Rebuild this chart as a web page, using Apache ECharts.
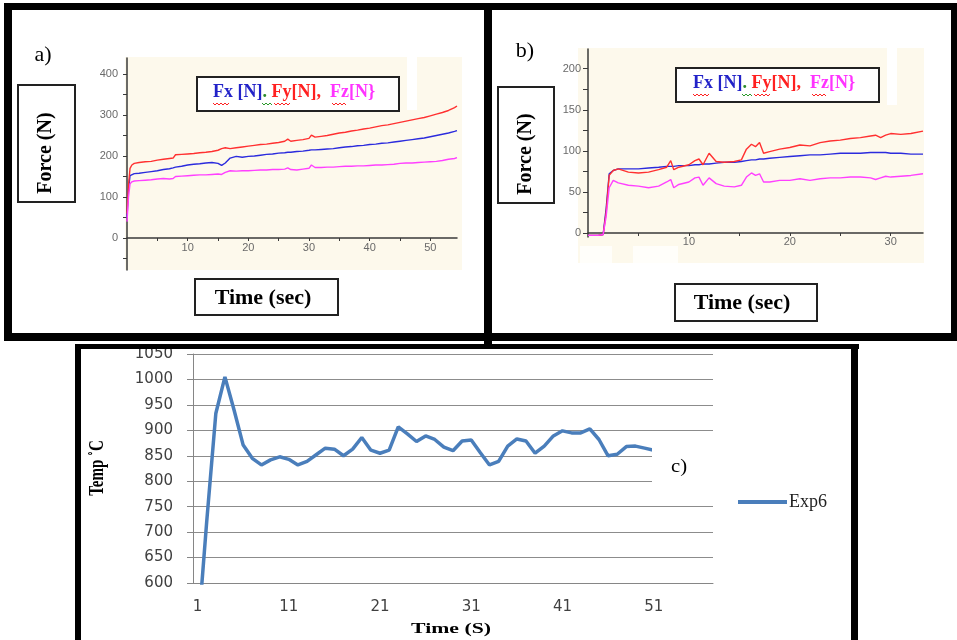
<!DOCTYPE html>
<html>
<head>
<meta charset="utf-8">
<style>
html,body{margin:0;padding:0;background:#fff;}
#chart{width:957px;height:640px;}
</style>
<script src="https://cdn.jsdelivr.net/npm/echarts@6/dist/echarts.min.js"></script>
</head>
<body>
<div id="chart"></div>
<script>
// ---------- Panel a) : force vs time ----------
const timesA = [0,0.25,0.5,0.8,1.2,2,3,4,5,6,7,7.6,8,9,10,11,12,13,14,15,15.6,16.2,17,18,19,20,21,22,23,24,25,26,26.5,27,28,29,30,30.4,31,32,33,34,35,36,37,38,39,40,41,42,43,44,45,46,47,48,49,50,51,52,53,54,54.4];
const fxA = [50,120,152,156,157,158,160,162,164,167,169,171,173,175,178,180,181,183,184,182,177,183,195,199,197,199,200,202,204,205,207,208,209,209,211,212,214,215,215,216,217,218,220,222,223,225,226,228,229,231,232,234,236,238,240,242,244,247,250,253,256,260,262];
const fyA = [60,130,170,178,182,184,186,187,190,192,194,195,203,204,205,206,208,209,211,214,218,220,218,220,222,224,226,228,229,231,233,236,241,236,238,240,243,251,246,248,250,253,256,258,261,263,266,268,271,274,276,279,282,285,288,291,294,298,302,306,311,318,322];
const fzA = [40,100,132,137,139,140,141,142,144,145,144,145,150,151,152,153,154,154,155,156,155,160,164,163,164,164,165,166,166,167,167,168,171,167,166,168,170,178,172,172,173,173,174,175,175,176,176,177,178,178,179,180,182,183,183,184,185,186,187,189,192,194,196];
const xTicksA = [5,10,15,20,25,30,35,40,45,50];
const xLabelsA = [10,20,30,40,50];
const yTicksA = [-50,0,50,100,150,200,250,300,350,400];
const yLabelsA = [0,100,200,300,400];

// ---------- Panel b) : force vs time ----------
const timesB = [0,1,1.5,1.8,2.1,2.5,3,4,5,6,7,7.8,8.2,8.5,9,10,10.6,11,11.4,12,12.7,13.5,14.5,15.2,15.7,16.2,16.6,17,17.4,18,19,20,21,22,23,24,25,26,27,28,28.5,29,29.5,30,31,32,33.2];
const fxB = [-3,-3,-2,30,72,76,78,78,78,79,80,81,81,81,82,82,83,83,84,84,85,86,86,87,88,89,89,90,90,91,92,93,94,95,95,96,97,97,97,98,98,98,98,97,97,96,96];
const fyB = [-3,-3,-2,25,70,76,78,74,73,74,77,80,88,77,80,83,88,90,83,97,87,86,87,89,102,108,105,110,97,99,102,104,107,106,110,112,113,115,116,118,119,116,119,121,120,121,124];
const fzB = [-3,-3,-2,20,55,64,61,58,57,55,57,62,65,55,59,62,67,68,58,67,60,57,56,58,68,73,70,72,62,62,64,64,66,64,66,67,67,68,68,67,65,67,69,68,69,70,72];
const xTicksB = [5,10,15,20,25,30];
const xLabelsB = [10,20,30];
const yTicksB = [0,25,50,75,100,125,150,175,200];
const yLabelsB = [0,50,100,150,200];

// ---------- Panel c) : temperature ----------
const catsC = ['1','2','3','4','5','6','7','8','9','10','11','12','13','14','15','16','17','18','19','20','21','22','23','24','25','26','27','28','29','30','31','32','33','34','35','36','37','38','39','40','41','42','43','44','45','46','47','48','49','50','51','52','53','54','55','56','57'];
const tempC = [490,720,933,1005,940,871,845,832,842,848,843,832,839,852,865,863,850,863,886,861,855,861,907,893,878,889,882,867,860,879,881,856,832,839,869,883,879,855,869,889,899,895,895,903,882,850,853,868,869,865,861];

const C_FX = '#2b2bdd', C_FY = '#ff3030', C_FZ = '#ff40ff';
const tickFont = {fontFamily:'"Liberation Sans", Arial, sans-serif', fontSize:11, color:'#6a6a6a'};

function pairs(t, v){ return t.map((x,i)=>[x, v[i]]); }

function forceSeries(xi, t, fx, fy, fz){
  const base = {type:'line', xAxisIndex:xi, yAxisIndex:xi, showSymbol:false, symbol:'none', animation:false, z:3};
  return [
    Object.assign({}, base, {name:'Fx'+xi, data:pairs(t,fx), lineStyle:{color:C_FX, width:1.4}, itemStyle:{color:C_FX}}),
    Object.assign({}, base, {name:'Fy'+xi, data:pairs(t,fy), lineStyle:{color:C_FY, width:1.4}, itemStyle:{color:C_FY}}),
    Object.assign({}, base, {name:'Fz'+xi, data:pairs(t,fz), lineStyle:{color:C_FZ, width:1.4}, itemStyle:{color:C_FZ}})
  ];
}

function squiggle(x0, x1, y, color){
  const pts = [];
  let up = true;
  for (let x = x0; x <= x1; x += 2) { pts.push([x, up ? y : y + 2]); up = !up; }
  return {type:'polyline', shape:{points:pts}, style:{stroke:color, lineWidth:1, fill:null}, z:102, silent:true};
}

function rect(x,y,w,h,fill,z,stroke,lw){
  return {type:'rect', shape:{x:x,y:y,width:w,height:h}, style:{fill:fill, stroke:stroke||null, lineWidth:lw||0}, z:z, silent:true};
}
function txt(x,y,text,font,opts){
  const o = opts || {};
  return Object.assign({type:'text', x:x, y:y, z:103, silent:true,
    style:{text:text, font:font, fill:o.fill||'#000', align:o.align||'center', verticalAlign:'middle', textAlign:o.align||'center', textVerticalAlign:'middle'}},
    o.extra||{});
}

const legendRich = function(){
  const f = {fontFamily:'"Liberation Serif", "Times New Roman", serif', fontSize:18, fontWeight:'bold'};
  return {
    bl: Object.assign({fill:'#2323c8'}, f),
    gr: Object.assign({fill:'#2a8a2a'}, f),
    rd: Object.assign({fill:'#ff2020'}, f),
    mg: Object.assign({fill:'#ff33ff'}, f)
  };
};
function legendText(x, y){
  return {type:'text', x:x, y:y, z:103, silent:true,
    style:{text:'{bl|Fx [N]}{gr|.}{rd| Fy[N],}{mg|  Fz[N}}', rich:legendRich(),
      font:'bold 18px "Liberation Serif", serif', fill:'#ff33ff', align:'left', verticalAlign:'middle', textAlign:'left', textVerticalAlign:'middle'}};
}

const serifBold = (s)=> 'bold '+s+'px "Liberation Serif", "Times New Roman", serif';
const serif = (s)=> s+'px "Liberation Serif", "Times New Roman", serif';

const graphics = [
  // cream plot backgrounds
  rect(125,57,337,213,'#fdf9ec',-10),
  rect(407,57,10,53,'#ffffff',-9),
  rect(578,48,346,215,'#fdf9ec',-10),
  rect(887,48,10,57,'#ffffff',-9),
  rect(580,246,32,17,'#fffefa',-9),
  rect(633,246,45,17,'#fffefa',-9),
  // white block behind "c)" label
  rect(652,444,62,52,'#ffffff',5),
  // frames
  rect(4,3,953,7,'#000',100),
  rect(4,3,8,338,'#000',100),
  rect(484,3,8,341,'#000',100),
  rect(951,3,6,338,'#000',100),
  rect(4,333,953,8,'#000',100),
  rect(75,344,784,5,'#000',100),
  rect(75,344,6,296,'#000',100),
  rect(851,344,7,296,'#000',100),
  // boxes panel a
  rect(18,85,57,117,'#fff',100,'#222',2),
  rect(195,279,143,36,'#fff',100,'#222',2),
  rect(197,77,202,34,'#fff',100,'#222',2),
  // boxes panel b
  rect(498,87,56,116,'#fff',100,'#222',2),
  rect(675,284,142,37,'#fff',100,'#222',2),
  rect(676,68,203,34,'#fff',100,'#222',2),
  // texts
  txt(43,55,'a)',serif(22)),
  txt(525,51,'b)',serif(22)),
  txt(46,153,'Force (N)',serifBold(20),{extra:{rotation:Math.PI/2}}),
  txt(526,154,'Force (N)',serifBold(20),{extra:{rotation:Math.PI/2}}),
  txt(263,298,'Time (sec)',serifBold(22)),
  txt(742,303,'Time (sec)',serifBold(22)),
  legendText(213,92),
  legendText(693,83),
  squiggle(213,229,103,'#ff2020'), squiggle(262,272,103,'#2a9a2a'), squiggle(274,291,103,'#ff2020'), squiggle(332,347,103,'#ff2020'),
  squiggle(693,709,94,'#ff2020'), squiggle(742,752,94,'#2a9a2a'), squiggle(754,771,94,'#ff2020'), squiggle(812,827,94,'#ff2020'),
  txt(679,467,'c)',serif(18),{extra:{scaleX:1.15}}),
  txt(98,468,'Temp \u02DAC',serifBold(15),{extra:{rotation:Math.PI/2, scaleY:1.4}}),
  txt(451,629,'Time (S)',serifBold(15),{extra:{scaleX:1.45}})
];

const axisLineAB = {show:true, onZero:false, lineStyle:{color:'#3a3a3a', width:1.5}};
const plain = (v)=> String(v);

const option = {
  animation:false,
  backgroundColor:'#ffffff',
  grid:[
    {left:127, top:58, width:330, height:212, outerBoundsMode:'none', containLabel:false},
    {left:588, top:49, width:335, height:188, outerBoundsMode:'none', containLabel:false},
    {left:193, top:354, width:520, height:229, outerBoundsMode:'none', containLabel:false}
  ],
  xAxis:[
    {type:'value', gridIndex:0, min:0, max:54.4, position:'bottom', offset:-32, axisLine:axisLineAB,
     axisTick:{show:true, customValues:xTicksA, length:3, lineStyle:{color:'#3a3a3a'}},
     axisLabel:Object.assign({customValues:xLabelsA, margin:4, formatter:plain}, tickFont), splitLine:{show:false}},
    {type:'value', gridIndex:1, min:0, max:33.2, position:'bottom', offset:-4, axisLine:axisLineAB,
     axisTick:{show:true, customValues:xTicksB, length:3, lineStyle:{color:'#3a3a3a'}},
     axisLabel:Object.assign({customValues:xLabelsB, margin:3, formatter:plain}, tickFont), splitLine:{show:false}},
    {type:'category', gridIndex:2, data:catsC, boundaryGap:true,
     axisLine:{show:true, lineStyle:{color:'#868686', width:1}},
     axisTick:{show:false},
     axisLabel:{interval:9, margin:17, fontFamily:'"DejaVu Sans", Verdana, sans-serif', fontSize:15, color:'#404040'},
     splitLine:{show:false}}
  ],
  yAxis:[
    {type:'value', gridIndex:0, min:-78, max:439, axisLine:axisLineAB,
     axisTick:{show:true, customValues:yTicksA, length:4, lineStyle:{color:'#3a3a3a'}},
     axisLabel:Object.assign({customValues:yLabelsA, margin:9, formatter:plain}, tickFont), splitLine:{show:false}},
    {type:'value', gridIndex:1, min:-5, max:224, axisLine:axisLineAB,
     axisTick:{show:true, customValues:yTicksB, length:5, lineStyle:{color:'#3a3a3a'}},
     axisLabel:Object.assign({customValues:yLabelsB, margin:7, formatter:plain}, tickFont), splitLine:{show:false}},
    {type:'value', gridIndex:2, min:600, max:1050, interval:50,
     axisLine:{show:true, lineStyle:{color:'#868686', width:1}},
     axisTick:{show:true, length:6, lineStyle:{color:'#868686'}},
     axisLabel:{margin:20, formatter:plain, fontFamily:'"DejaVu Sans", Verdana, sans-serif', fontSize:15, color:'#404040'},
     splitLine:{show:true, lineStyle:{color:'#8c8c8c', width:1}}}
  ],
  legend:{
    data:[{name:'Exp6', icon:'rect'}], left:733, top:488, itemWidth:49, itemHeight:4, itemGap:0,
    textStyle:{fontFamily:'"Liberation Serif", "Times New Roman", serif', fontSize:18, color:'#222', padding:[0,0,0,-3]}
  },
  series: [].concat(
    forceSeries(0, timesA, fxA, fyA, fzA),
    forceSeries(1, timesB, fxB, fyB, fzB),
    [{type:'line', name:'Exp6', xAxisIndex:2, yAxisIndex:2, data:tempC, symbol:'none', showSymbol:false,
      clip:true, lineStyle:{color:'#4a7ebb', width:3.5}, itemStyle:{color:'#4a7ebb'}, z:3}]
  ),
  graphic:{elements:graphics}
};

const chart = echarts.init(document.getElementById('chart'), null, {renderer:'canvas'});
chart.setOption(option);
</script>
</body>
</html>
